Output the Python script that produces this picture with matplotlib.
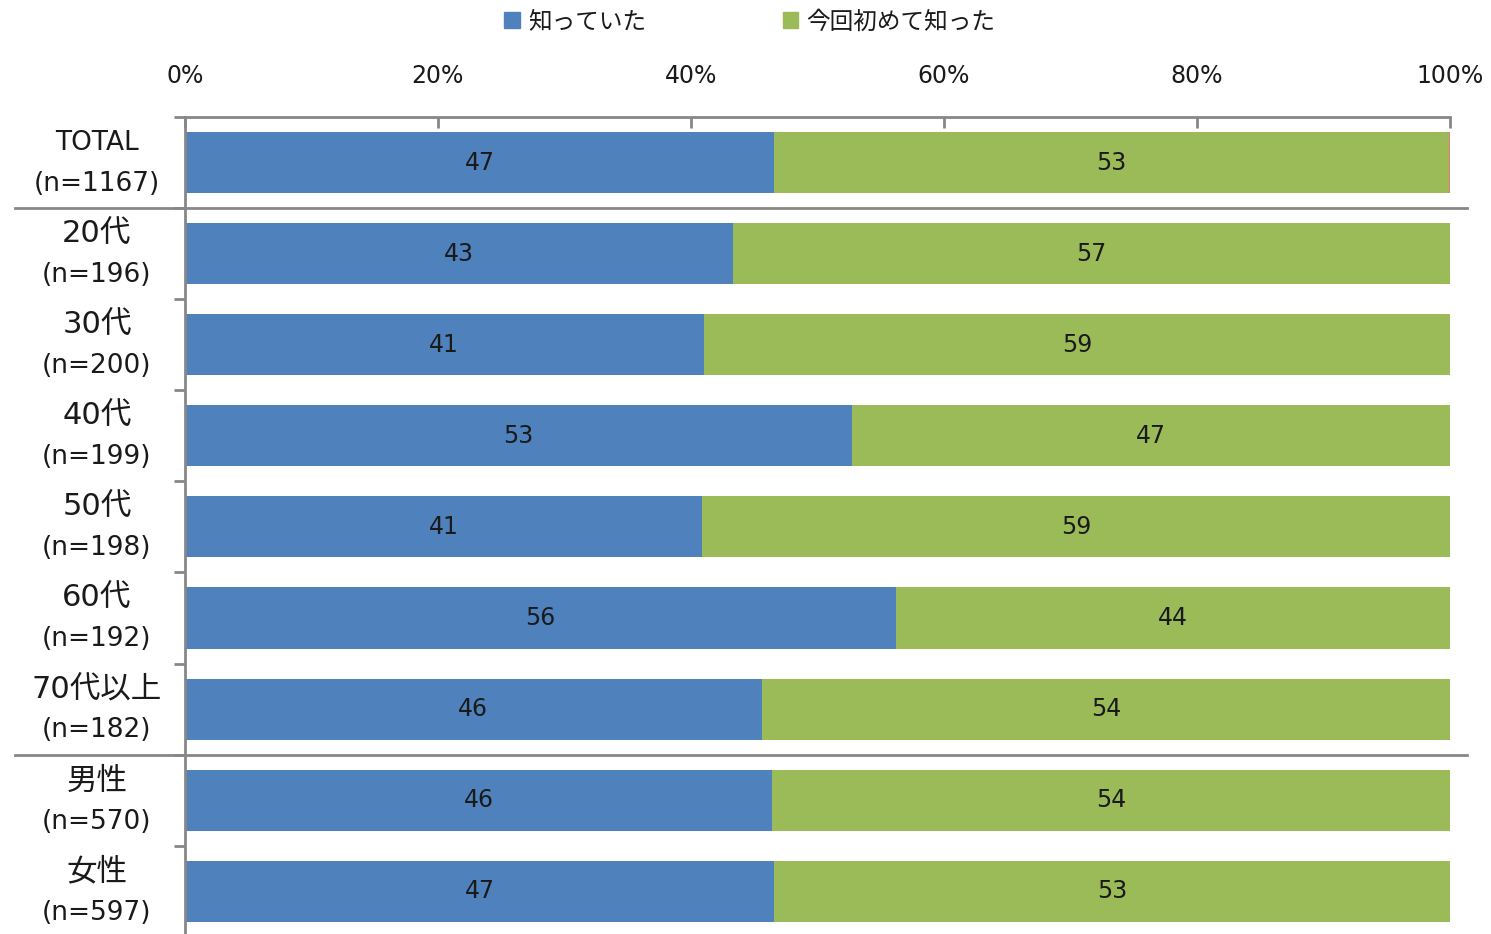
import matplotlib.pyplot as plt
from matplotlib.patches import Rectangle
from matplotlib.transforms import blended_transform_factory

# DejaVu for latin/digits (wide like the original), Noto CJK for Japanese
plt.rcParams['font.family'] = ['DejaVu Sans', 'Noto Sans CJK JP']

# -----------------------------
# Data (percent)
# -----------------------------
group_names = ["TOTAL", "20代", "30代", "40代", "50代", "60代", "70代以上", "男性", "女性"]
group_n = ["(n=1167)", "(n=196)", "(n=200)", "(n=199)", "(n=198)", "(n=192)",
           "(n=182)", "(n=570)", "(n=597)"]
knew = [46.6, 43.3, 41.0, 52.7, 40.9, 56.2, 45.6, 46.4, 46.6]
first_time = [53.3, 56.7, 59.0, 47.3, 59.1, 43.8, 54.4, 53.6, 53.4]
no_answer = [0.1, 0, 0, 0, 0, 0, 0, 0, 0]

legend_names = ["知っていた", "今回初めて知った"]
blue = "#4F81BD"
green = "#9BBB59"
red = "#E8787A"
grey = "#878787"
text_color = "#1a1a1a"

fig = plt.figure(figsize=(14.91, 9.34), dpi=100)
ax = fig.add_axes([0.124, -0.003, 0.8485, 0.8777])

y = list(range(len(group_names)))
b1 = ax.barh(y, knew, height=0.67, color=blue)
b2 = ax.barh(y, first_time, left=knew, height=0.67, color=green)
lefts3 = [k + f for k, f in zip(knew, first_time)]
ax.barh(y, no_answer, left=lefts3, height=0.67, color=red)

ax.bar_label(b1, labels=[f"{round(v)}" for v in knew], label_type="center",
             fontsize=17, color=text_color)
ax.bar_label(b2, labels=[f"{round(v)}" for v in first_time], label_type="center",
             fontsize=17, color=text_color)

ax.set_xlim(0, 100)
ax.set_ylim(len(group_names) - 0.5, -0.5)

# x axis on top
ax.xaxis.tick_top()
ax.set_xticks([0, 20, 40, 60, 80, 100])
ax.set_xticklabels([f"{v}%" for v in [0, 20, 40, 60, 80, 100]], fontsize=17, color=text_color)
ax.tick_params(axis="x", direction="in", length=8, width=2, color=grey, pad=21)

# row labels (two lines), boundary ticks as minor
ax.set_yticks([])
ax.set_yticks([i - 0.5 for i in range(len(group_names) + 1)], minor=True)
ax.tick_params(axis="y", which="minor", length=8, width=2, color=grey, direction="out")
lab_trans = blended_transform_factory(ax.transAxes, ax.transData)
for i, (name, n) in enumerate(zip(group_names, group_n)):
    if name.isascii():
        fs, dy = 19, -0.22
    else:
        fs, dy = 22, -0.21
    ax.text(-0.0696, i + dy, name, transform=lab_trans, ha="center", va="center",
            fontsize=fs, color=text_color)
    ax.text(-0.0696, i + 0.235, n, transform=lab_trans, ha="center", va="center",
            fontsize=19, color=text_color)

for s in ["right", "bottom"]:
    ax.spines[s].set_visible(False)
for s in ["top", "left"]:
    ax.spines[s].set_color(grey)
    ax.spines[s].set_linewidth(2)

# group separators
for sep in [0.5, 6.5]:
    ax.plot([-0.134, 1.0134], [sep, sep], transform=lab_trans, color=grey,
            linewidth=2, clip_on=False)

# legend
handles = [Rectangle((0, 0), 1, 1, color=blue), Rectangle((0, 0), 1, 1, color=green)]
fig.legend(handles, legend_names, loc="center", bbox_to_anchor=(0.503, 0.977),
           ncol=2, frameon=False, fontsize=17, handlelength=0.65, handleheight=0.65,
           handletextpad=0.35, columnspacing=5.8, labelcolor=text_color)

fig.savefig("out.png", dpi=100)
